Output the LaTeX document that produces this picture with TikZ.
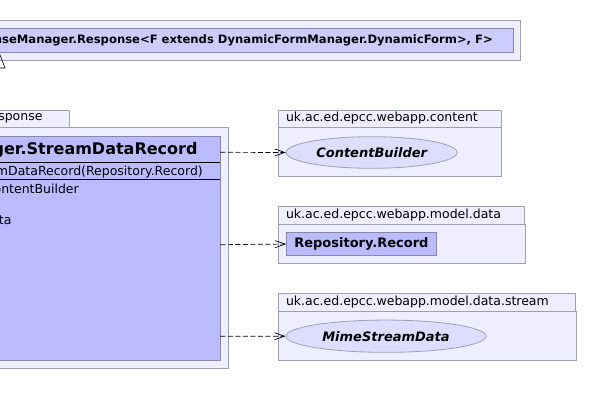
\documentclass[tikz,border=0pt]{standalone}
\usepackage{fontspec}
\setmainfont{DejaVu Sans}
\usetikzlibrary{arrows.meta,shapes.geometric}
\definecolor{pkgfill}{RGB}{238,238,255}
\definecolor{pkgline}{RGB}{160,160,180}
\definecolor{clsfill}{RGB}{204,204,255}
\definecolor{selfill}{RGB}{187,187,255}
\definecolor{clsline}{RGB}{136,136,170}
\definecolor{ifcfill}{RGB}{221,221,255}
\tikzset{
  pkg/.style={draw=pkgline, fill=pkgfill, line width=0.8pt},
  cls/.style={draw=clsline, fill=clsfill, line width=0.8pt},
  selcls/.style={draw=clsline, fill=selfill, line width=0.8pt},
  lbl/.style={font=\fontsize{12.5}{15}\selectfont, inner sep=0pt},
  mlbl/.style={font=\fontsize{12.5}{15}\selectfont, inner sep=0pt},
  blbl/.style={font=\fontsize{13}{15}\selectfont\bfseries, inner sep=0pt},
  ilbl/.style={font=\fontsize{13}{15}\selectfont\bfseries\itshape, inner sep=0pt},
  dep/.style={draw=black, line width=0.7pt, dash pattern=on 5pt off 2.5pt, -{Straight Barb[length=10pt,width=7pt]}},
  ifc/.style={ellipse, draw=pkgline, fill=ifcfill, line width=0.8pt, inner sep=0pt}
}
\begin{document}
\begin{tikzpicture}[x=1pt,y=-1pt]
\useasboundingbox (0,0) rectangle (595,406);
\clip (0,0) rectangle (595,406);
\fill[white] (0,0) rectangle (595,406);
% top package
\draw[pkg] (-20,20.7) rectangle (520.5,60.7);
\draw[cls] (-15,28.3) rectangle (513.5,52.3);
\node[font=\fontsize{11.6}{14}\selectfont\bfseries, inner sep=0pt, anchor=east] (resptxt) at (493,40.5) {nseManager.Response<F extends DynamicFormManager.DynamicForm>, F>};
% generalization triangle
\coordinate (tip) at (-1,52.3);
\draw[black, line width=0.6pt] (tip) -- (5,68) -- (-13,68);
% left package
\draw[pkg] (-20,110) rectangle (69.3,127.3);
\node[lbl, anchor=east] (lefttab) at (42.7,118.5) {sponse};
\draw[pkg] (-20,127.3) rectangle (228.7,368.3);
\draw[selcls] (-15,136) rectangle (220.3,360.3);
\node[font=\fontsize{16}{18}\selectfont\bfseries, inner sep=0pt, anchor=base east] (sdrtitle) at (197.7,155) {ger.StreamDataRecord};
\draw[black, line width=0.6pt] (-15,162) -- (220.3,162);
\node[mlbl, anchor=base east] (ctor) at (203,175.5) {mDataRecord(Repository.Record)};
\draw[black, line width=0.6pt] (-15,179.3) -- (220.3,179.3);
\node[mlbl, anchor=base east] (f1) at (79,193.5) {ontentBuilder};
\node[mlbl, anchor=base east] (f3) at (11.7,225) {ta};
\coordinate (sdr1) at (220.3,152.3);
\coordinate (sdr2) at (220.3,244.7);
\coordinate (sdr3) at (220.3,336.3);
% content package
\draw[pkg] (278.3,110) rectangle (501,127.3);
\draw[pkg] (278.3,127.3) rectangle (501.7,176.3);
\node[lbl, anchor=west] (p1) at (285.8,118.5) {uk.ac.ed.epcc.webapp.content};
\node[ifc, minimum width=171pt, minimum height=31.6pt] (cb) at (371.7,152.5) {};
\node[ilbl] at (cb.center) {ContentBuilder};
% model.data package
\draw[pkg] (278.3,206.7) rectangle (524.3,224);
\draw[pkg] (278.3,224) rectangle (525.3,263.3);
\node[lbl, anchor=west] (p2) at (285.8,215.5) {uk.ac.ed.epcc.webapp.model.data};
\node[selcls, minimum width=149.4pt, minimum height=23.3pt, inner sep=0pt, anchor=north west] (rr) at (286.3,232) {};
\node[blbl] at (rr.center) {Repository.Record};
% stream package
\draw[pkg] (278.3,293.3) rectangle (575.7,311);
\draw[pkg] (278.3,311) rectangle (576.7,360);
\node[lbl, anchor=west] (p3) at (285.8,302) {uk.ac.ed.epcc.webapp.model.data.stream};
\node[ifc, minimum width=200pt, minimum height=32.3pt] (msd) at (386,336.2) {};
\node[ilbl] at (msd.center) {MimeStreamData};
% dependencies
\draw[dep] (sdr1) -- (cb.west);
\draw[dep] (sdr2) -- (rr.west);
\draw[dep] (sdr3) -- (msd.west);
\end{tikzpicture}
\end{document}
